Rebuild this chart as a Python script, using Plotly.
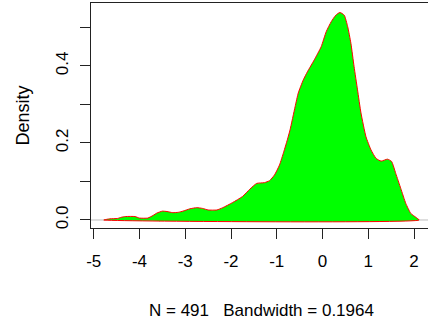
import plotly.graph_objects as go

x_vals = [-4.78, -4.65, -4.48, -4.40, -4.30, -4.10, -4.00, -3.82, -3.70, -3.62, -3.50, -3.40,
          -3.27, -3.15, -3.05, -2.90, -2.75, -2.62, -2.50, -2.31, -2.18, -1.97, -1.75, -1.59,
          -1.44, -1.27, -1.16, -1.05, -0.94, -0.85, -0.77, -0.71, -0.60, -0.53, -0.42, -0.33,
          -0.18, -0.03, 0.08, 0.19, 0.29, 0.38, 0.475, 0.55, 0.62, 0.69, 0.765, 0.84, 0.95,
          1.06, 1.17, 1.28, 1.42, 1.51, 1.60, 1.71, 1.82, 1.93, 2.04, 2.11]
density = [0.000, 0.003, 0.004, 0.007, 0.009, 0.009, 0.005, 0.005, 0.012, 0.018, 0.023, 0.022,
           0.019, 0.020, 0.023, 0.029, 0.032, 0.030, 0.026, 0.026, 0.032, 0.045, 0.061, 0.080,
           0.095, 0.097, 0.102, 0.117, 0.143, 0.176, 0.208, 0.234, 0.294, 0.330, 0.364, 0.385,
           0.416, 0.450, 0.489, 0.515, 0.532, 0.539, 0.532, 0.502, 0.459, 0.398, 0.338, 0.278, 0.216,
           0.182, 0.160, 0.153, 0.158, 0.152, 0.121, 0.082, 0.043, 0.017, 0.007, 0.000]

x_ticks = [-5, -4, -3, -2, -1, 0, 1, 2]
x_ticktext = ["-5", "-4", "-3", "-2", "-1", "0", "1", "2"]
y_ticks = [0.0, 0.1, 0.2, 0.3, 0.4, 0.5]
y_ticktext = ["0.0", "", "0.2", "", "0.4", ""]
x_title = "N = 491\u00a0\u00a0\u00a0Bandwidth = 0.1964"
y_title = "Density"

FONT = "Liberation Sans, Arial, sans-serif"

fig = go.Figure()
fig.add_trace(go.Scatter(
    x=x_vals + [x_vals[0]], y=density + [density[0]],
    mode="lines", fill="toself", fillcolor="#00ff00",
    line=dict(color="#ff0000", width=1, shape="spline", smoothing=0.5),
    hoverinfo="skip", showlegend=False))

fig.add_shape(type="line", xref="paper", yref="y", x0=0, x1=1, y0=0, y1=0,
              line=dict(color="#bebebe", width=1), layer="below")

fig.update_layout(
    width=428, height=325,
    margin=dict(l=91, r=0, t=3, b=97),
    paper_bgcolor="white", plot_bgcolor="white",
    font=dict(family=FONT, size=17, color="black"),
    xaxis=dict(range=[-5.06, 2.305], tickvals=x_ticks, ticktext=x_ticktext,
               ticks="outside", ticklen=10, ticklabelstandoff=8,
               tickcolor="#222", tickwidth=1, showline=True, linecolor="#222", linewidth=1,
               mirror=True, showgrid=False, zeroline=False,
               tickfont=dict(family=FONT, size=17, color="black")),
    yaxis=dict(range=[-0.0208, 0.5636], tickvals=y_ticks, ticktext=y_ticktext,
               ticks="outside", ticklen=10, tickcolor="#222", tickwidth=1, tickangle=-90,
               ticklabelstandoff=5,
               showline=True, linecolor="#222", linewidth=1, showgrid=False, zeroline=False,
               tickfont=dict(family=FONT, size=17, color="black")),
    annotations=[
        dict(text=y_title, xref="paper", yref="paper", x=(22 - 91) / 337, y=0.5,
             textangle=-90, showarrow=False, xanchor="center", yanchor="middle",
             font=dict(family=FONT, size=18, color="black")),
        dict(text=x_title, xref="paper", yref="paper", x=(261 - 91) / 337, y=(228 - 310) / 225,
             showarrow=False, xanchor="center", yanchor="middle",
             font=dict(family=FONT, size=17, color="black")),
    ],
)

fig.write_html("out.html")
